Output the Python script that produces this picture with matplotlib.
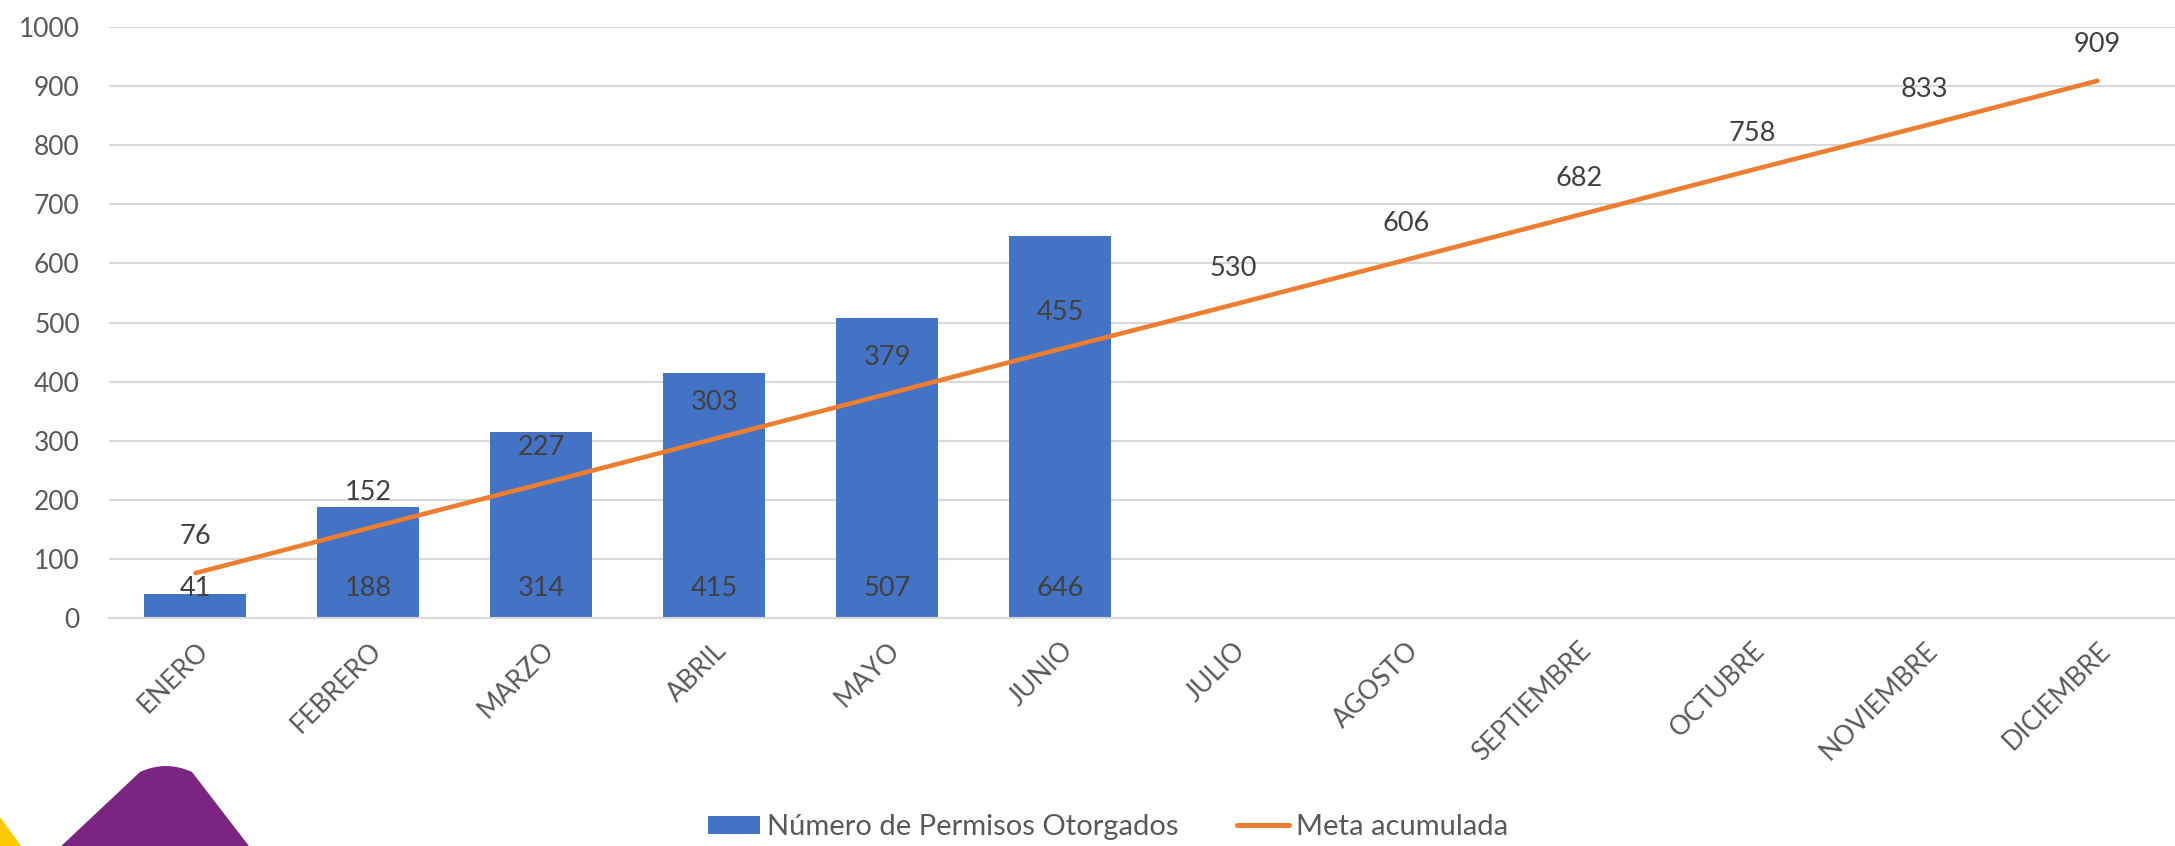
import matplotlib.pyplot as plt
from matplotlib.patches import Polygon, PathPatch, Patch
from matplotlib.lines import Line2D
from matplotlib.path import Path

meses = ['ENERO', 'FEBRERO', 'MARZO', 'ABRIL', 'MAYO', 'JUNIO', 'JULIO',
         'AGOSTO', 'SEPTIEMBRE', 'OCTUBRE', 'NOVIEMBRE', 'DICIEMBRE']
permisos = [41, 188, 314, 415, 507, 646]
meta = [76, 152, 227, 303, 379, 455, 530, 606, 682, 758, 833, 909]
y_ticks = list(range(0, 1001, 100))

BLUE = '#4472C4'
ORANGE = '#ED7D31'
GRID = '#D9D9D9'
TICK_COLOR = '#595959'
LABEL_COLOR = '#404040'

plt.rcParams['font.family'] = ['Lato', 'DejaVu Sans']

W, H = 2175, 846
fig = plt.figure(figsize=(W / 100, H / 100), dpi=100)
ax = fig.add_axes([109 / W, 1 - 618 / H, (2184 - 109) / W, (618 - 27) / H])

x_bar = list(range(len(permisos)))
x_line = list(range(len(meta)))

ax.bar(x_bar, permisos, width=0.59, color=BLUE, zorder=2)
ax.plot(x_line, meta, color=ORANGE, linewidth=3.3, solid_capstyle='round', zorder=3)

# data labels: bars at the inside base, line above the point
for x, v in zip(x_bar, permisos):
    ax.annotate(str(v), xy=(x, 0), xytext=(0, 21.5), textcoords='offset points',
                ha='center', va='center', fontsize=19.5, color=LABEL_COLOR, zorder=4)
for x, v in zip(x_line, meta):
    ax.annotate(str(v), xy=(x, v), xytext=(0, 26), textcoords='offset points',
                ha='center', va='center', fontsize=19.5, color=LABEL_COLOR, zorder=4)

ax.set_xlim(-0.5, len(meses) - 0.5)
ax.set_ylim(0, 1000)
ax.set_yticks(y_ticks)
ax.set_xticks(x_line)
ax.set_xticklabels(meses, rotation=45, ha='right', va='top', rotation_mode='anchor')
ax.tick_params(axis='both', length=0, labelsize=19, labelcolor=TICK_COLOR)
ax.tick_params(axis='y', pad=21)
ax.tick_params(axis='x', pad=14)
ax.grid(axis='y', color=GRID, linewidth=1.5, zorder=0)
ax.set_axisbelow(True)
for s in ['top', 'right', 'left']:
    ax.spines[s].set_visible(False)
ax.spines['bottom'].set_color(GRID)
ax.spines['bottom'].set_linewidth(1.5)

handles = [Patch(facecolor=BLUE, edgecolor='none'),
           Line2D([0], [0], color=ORANGE, linewidth=3.6, solid_capstyle='round')]
fig.legend(handles, ['Número de Permisos Otorgados', 'Meta acumulada'],
           loc='center', bbox_to_anchor=(1108 / W, 1 - 827 / H), ncol=2,
           frameon=False, fontsize=21, labelcolor=TICK_COLOR,
           handlelength=1.8, handleheight=0.58, handletextpad=0.24,
           columnspacing=2.0, borderpad=0, borderaxespad=0)

# corner decoration
def fpt(px, py):
    return (px / W, 1 - py / H)

verts = [fpt(57, 850), fpt(140, 772), fpt(166, 760), fpt(192, 772), fpt(252, 850), fpt(57, 850)]
codes = [Path.MOVETO, Path.LINETO, Path.CURVE3, Path.CURVE3, Path.LINETO, Path.CLOSEPOLY]
fig.patches.append(PathPatch(Path(verts, codes), facecolor='#7B2482', edgecolor='none',
                             transform=fig.transFigure))
fig.patches.append(Polygon([fpt(0, 817), fpt(24, 850), fpt(0, 850)], closed=True,
                           facecolor='#FFC800', edgecolor='none', transform=fig.transFigure))

fig.savefig('out.png', dpi=100)
